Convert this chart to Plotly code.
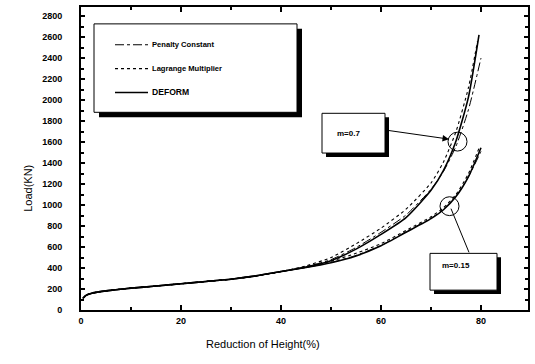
import plotly.graph_objects as go

# Load vs. reduction of height for two friction factors (m=0.7, m=0.15)
x_low = [0.4, 1, 2, 3, 5, 7.5, 10, 15, 20, 25, 30, 35, 40]
load_low = [112, 140, 158, 168, 182, 196, 208, 228, 250, 272, 293, 325, 366]

x_hi = [45, 50, 55, 60, 65, 70, 72.5, 75, 77.5]

# m = 0.7
deform_07 = [410, 470, 580, 720, 880, 1140, 1330, 1610, 2030]
deform_07_end = (79.6, 2620)
penalty_07 = [412, 480, 595, 740, 905, 1150, 1320, 1560, 1910]
penalty_07_end = (80, 2400)
lagrange_07 = [420, 500, 630, 780, 960, 1210, 1410, 1700, 2120]
lagrange_07_end = (79.3, 2560)

# m = 0.15
deform_015 = [405, 450, 515, 612, 740, 870, 955, 1080, 1270]
deform_015_end = (80, 1545)
penalty_015 = [405, 452, 520, 615, 745, 875, 960, 1085, 1270]
penalty_015_end = (80, 1510)
lagrange_015 = [412, 465, 540, 632, 758, 888, 975, 1100, 1300]
lagrange_015_end = (79.8, 1565)

y_ticks = list(range(0, 2801, 200))
x_ticks = [0, 20, 40, 60, 80]

FONT = "Liberation Sans Narrow, Liberation Sans, Arial, sans-serif"

# plot-area pixel frame used for decorations
PX0, PX1, PY0, PY1 = 81, 528, 5, 310
W, H = 535, 364


def px(xp):
    return (xp - PX0) / (PX1 - PX0)


def py(yp):
    return (PY1 - yp) / (PY1 - PY0)


def series(hi, end):
    xs = x_low + x_hi + [end[0]]
    ys = load_low + hi + [end[1]]
    return xs, ys


styles = {
    "DEFORM": dict(color="black", width=1.6, dash="solid"),
    "Penalty Constant": dict(color="black", width=1.0, dash="dashdot"),
    "Lagrange Multiplier": dict(color="black", width=1.1, dash="dot"),
}

fig = go.Figure()
for name, hi, end in [
    ("Lagrange Multiplier", lagrange_07, lagrange_07_end),
    ("Penalty Constant", penalty_07, penalty_07_end),
    ("DEFORM", deform_07, deform_07_end),
    ("Lagrange Multiplier", lagrange_015, lagrange_015_end),
    ("Penalty Constant", penalty_015, penalty_015_end),
    ("DEFORM", deform_015, deform_015_end),
]:
    xs, ys = series(hi, end)
    fig.add_trace(go.Scatter(x=xs, y=ys, mode="lines", name=name,
                             line=dict(shape="spline", smoothing=0.6, **styles[name]),
                             showlegend=False, hoverinfo="skip"))

shapes = []
annotations = []


def box(x0, y0, x1, y1, shadow=5):
    shapes.append(dict(type="rect", xref="paper", yref="paper",
                       x0=px(x0 + shadow), x1=px(x1 + shadow),
                       y0=py(y1 + shadow), y1=py(y0 + shadow),
                       fillcolor="black", line=dict(width=0), layer="above"))
    shapes.append(dict(type="rect", xref="paper", yref="paper",
                       x0=px(x0), x1=px(x1), y0=py(y1), y1=py(y0),
                       fillcolor="white", line=dict(color="black", width=1), layer="above"))


# legend box
box(94, 22, 297, 111, shadow=5)
for i, name in enumerate(["Penalty Constant", "Lagrange Multiplier", "DEFORM"]):
    yy = 43 + i * 24
    st = styles[name]
    shapes.append(dict(type="line", xref="paper", yref="paper",
                       x0=px(115), x1=px(148), y0=py(yy), y1=py(yy),
                       line=dict(color="black", width=st["width"], dash=st["dash"]),
                       layer="above"))
    annotations.append(dict(x=px(150), y=py(yy), xref="paper", yref="paper",
                            text=name, showarrow=False, xanchor="left", yanchor="middle",
                            font=dict(family=FONT, size=7.6 if name != "DEFORM" else 8.6,
                                      color="black", weight="bold")))

# m=0.7 callout
box(322, 112, 385, 152, shadow=4)
annotations.append(dict(x=px(335), y=py(132), xref="paper", yref="paper",
                        text="m=0.7", showarrow=False, xanchor="left",
                        font=dict(family=FONT, size=8, color="black", weight="bold")))
annotations.append(dict(x=px(449), y=py(138), xref="paper", yref="paper",
                        ax=386 - 449, ay=129 - 138, axref="pixel", ayref="pixel",
                        text="", showarrow=True, arrowhead=2, arrowsize=1.3,
                        arrowwidth=1, arrowcolor="black"))
shapes.append(dict(type="circle", xref="paper", yref="paper",
                   x0=px(448), x1=px(467), y0=py(150), y1=py(131),
                   line=dict(color="black", width=1), layer="above"))

# m=0.15 callout
box(430, 253, 497, 290, shadow=4)
annotations.append(dict(x=px(440), y=py(272), xref="paper", yref="paper",
                        text="m=0.15", showarrow=False, xanchor="left",
                        font=dict(family=FONT, size=8, color="black", weight="bold")))
shapes.append(dict(type="line", xref="paper", yref="paper",
                   x0=px(469), y0=py(252), x1=px(451), y1=py(208),
                   line=dict(color="black", width=1), layer="above"))
shapes.append(dict(type="circle", xref="paper", yref="paper",
                   x0=px(440), x1=px(459), y0=py(215), y1=py(196),
                   line=dict(color="black", width=1), layer="above"))

# axis titles
annotations.append(dict(x=px(20), y=py(188), xref="paper", yref="paper",
                        text="Load(KN)", showarrow=False, textangle=-90,
                        font=dict(family=FONT, size=11, color="black")))
annotations.append(dict(x=px(263), y=py(352), xref="paper", yref="paper",
                        text="Reduction of Height(%)", showarrow=False,
                        font=dict(family=FONT, size=11, color="black")))

fig.update_layout(
    width=W, height=H,
    margin=dict(l=PX0, r=W - PX1, t=PY0, b=H - PY1),
    paper_bgcolor="white", plot_bgcolor="white",
    shapes=shapes, annotations=annotations,
    font=dict(family=FONT, color="black"),
)
fig.update_xaxes(range=[0, 89.4], tickvals=x_ticks, ticks="inside", ticklen=5,
                 tickwidth=1.5, tickcolor="black",
                 minor=dict(dtick=10, ticks="inside", ticklen=3, tickcolor="black"),
                 showgrid=False, zeroline=False, showline=True, linewidth=2,
                 linecolor="black", mirror="ticks", ticklabelstandoff=1,
                 tickfont=dict(family=FONT, size=9, color="black", weight="bold"))
fig.update_yaxes(range=[0, 2886], tickvals=y_ticks, ticks="inside", ticklen=4,
                 tickwidth=1.5, tickcolor="black",
                 minor=dict(dtick=100, ticks="inside", ticklen=3, tickcolor="black"),
                 showgrid=False, zeroline=False, showline=True, linewidth=2,
                 linecolor="black", mirror="ticks", ticklabelstandoff=15,
                 tickformat="d",
                 tickfont=dict(family=FONT, size=9, color="black", weight="bold"))

fig.write_html("out.html")
